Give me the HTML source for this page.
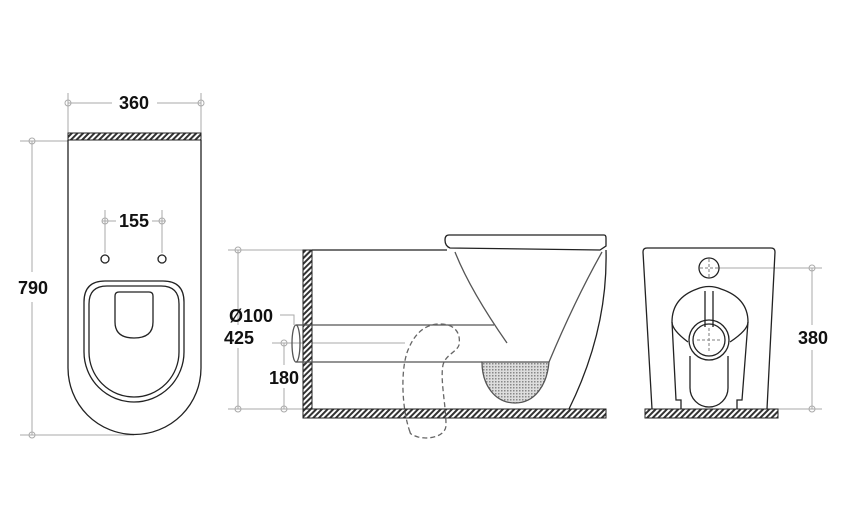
<!DOCTYPE html>
<html><head><style>body{margin:0;background:#fff}svg{display:block}text{font-family:"Liberation Sans",sans-serif;font-weight:bold;font-size:18px;fill:#111}</style></head>
<body>
<svg width="842" height="526" viewBox="0 0 842 526" xmlns="http://www.w3.org/2000/svg">
<defs>
<pattern id="h" width="4" height="4" patternUnits="userSpaceOnUse" patternTransform="rotate(45)"><rect width="4" height="4" fill="#fff"/><rect width="2" height="4" fill="#333"/></pattern>
<pattern id="d" width="3" height="3" patternUnits="userSpaceOnUse"><rect width="3" height="3" fill="#ddd"/><rect width="1.5" height="1.5" fill="#888"/></pattern>
</defs>
<g fill="none" stroke="#aaa" stroke-width="1">
<line x1="68" y1="93" x2="68" y2="133"/><line x1="201" y1="93" x2="201" y2="133"/>
<line x1="68" y1="103" x2="112" y2="103"/><line x1="157" y1="103" x2="201" y2="103"/>
<circle cx="68" cy="103" r="3"/><circle cx="201" cy="103" r="3"/>
<line x1="20" y1="141" x2="68" y2="141"/><line x1="20" y1="435" x2="134" y2="435"/>
<line x1="32" y1="141" x2="32" y2="272"/><line x1="32" y1="302" x2="32" y2="435"/>
<circle cx="32" cy="141" r="3"/><circle cx="32" cy="435" r="3"/>
<line x1="105" y1="210" x2="105" y2="253"/><line x1="162" y1="210" x2="162" y2="253"/>
<line x1="102" y1="221" x2="116" y2="221"/><line x1="152" y1="221" x2="166" y2="221"/>
<circle cx="105" cy="221" r="3"/><circle cx="162" cy="221" r="3"/>
<line x1="228" y1="250" x2="303" y2="250"/><line x1="228" y1="409" x2="303" y2="409"/>
<line x1="238" y1="250" x2="238" y2="325"/><line x1="238" y1="348" x2="238" y2="409"/>
<circle cx="238" cy="250" r="3"/><circle cx="238" cy="409" r="3"/>
<line x1="272" y1="343" x2="405" y2="343"/>
<line x1="284" y1="343" x2="284" y2="365"/><line x1="284" y1="388" x2="284" y2="409"/>
<circle cx="284" cy="343" r="3"/><circle cx="284" cy="409" r="3"/>
<polyline points="280,315 294,315 294,325"/>
<line x1="719" y1="268" x2="822" y2="268"/><line x1="778" y1="409" x2="822" y2="409"/>
<line x1="812" y1="268" x2="812" y2="325"/><line x1="812" y1="350" x2="812" y2="409"/>
<circle cx="812" cy="268" r="3"/><circle cx="812" cy="409" r="3"/>
</g>
<rect x="68" y="133" width="133" height="7" fill="url(#h)" stroke="#222"/>
<rect x="303" y="250" width="9" height="168" fill="url(#h)" stroke="#222"/>
<rect x="303" y="409" width="303" height="9" fill="url(#h)" stroke="#222"/>
<rect x="645" y="409" width="133" height="9" fill="url(#h)" stroke="#222"/>
<g fill="none" stroke="#222" stroke-width="1.3">
<path d="M68,140 V368 A66.5,66.5 0 0 0 201,368 V140"/>
<circle cx="105" cy="259" r="4"/><circle cx="162" cy="259" r="4"/>
<path d="M84,352 V302 Q84,281 105,281 H163 Q184,281 184,302 V352 A50,50 0 0 1 84,352 Z"/>
<path d="M89,352 V304 Q89,286 107,286 H161 Q179,286 179,304 V352 A45,45 0 0 1 89,352 Z"/>
<path d="M115,296 Q115,292 119,292 H149 Q153,292 153,296 V322 Q153,338 134,338 Q115,338 115,322 Z"/>
<line x1="312" y1="250" x2="447" y2="250"/>
<path d="M449,235 H604 Q606,235 606,238 V246 L600,250 L450,248 Q445,246 445,240 Q445,235 449,235 Z"/>
<path d="M606,250 Q608,330 569,409"/>
<path d="M455,252 Q470,290 507,343" stroke="#555"/>
<path d="M602,252 Q575,300 549,362" stroke="#555"/>
<line x1="312" y1="325" x2="494" y2="325" stroke="#555"/>
<line x1="312" y1="362" x2="482" y2="362" stroke="#555"/>
<ellipse cx="296" cy="343.5" rx="4" ry="18.5" stroke="#555"/>
<line x1="296" y1="325" x2="312" y2="325" stroke="#555"/><line x1="296" y1="362" x2="312" y2="362" stroke="#555"/>
<path d="M482,362 C482,385 495,403 515,403 C535,403 547,385 549,362 Z" fill="url(#d)" stroke="#555"/>
<path d="M410,432 C402,410 400,370 408,350 C416,330 428,324 440,324 C455,324 461,333 459,345 C457,352 446,354 443,365 C440,380 446,405 446,425 C446,436 430,440 418,437 C412,435 410,434 410,432 Z" stroke="#666" stroke-dasharray="5,3"/>
<path d="M652,409 L643,252 Q643,248 647,248 H771 Q775,248 775,252 L767,409"/>
<circle cx="709" cy="268" r="10"/>
<path d="M700,268 h18 M709,259 v18" stroke="#999" stroke-dasharray="3,2"/>
<path d="M697,289 Q709,284 721,289 Q748,298 748,322 Q748,330 730,342 M688,342 Q672,330 672,322 Q672,298 697,289"/>
<path d="M705,291 V327 M713,291 V327" />
<circle cx="709" cy="340" r="20"/><circle cx="709" cy="340" r="16"/>
<path d="M697,340 h24 M709,328 v24" stroke="#999" stroke-dasharray="3,2"/>
<path d="M690,356 V388 A19,19 0 0 0 728,388 V356"/>
<path d="M672,322 L676,400 H681 V409 M748,322 L742,400 H737 V409"/>
</g>
<text x="134" y="109" text-anchor="middle">360</text>
<text x="33" y="294" text-anchor="middle">790</text>
<text x="134" y="227" text-anchor="middle">155</text>
<text x="251" y="322" text-anchor="middle">Ø100</text>
<text x="239" y="344" text-anchor="middle">425</text>
<text x="284" y="384" text-anchor="middle">180</text>
<text x="813" y="344" text-anchor="middle">380</text>
</svg>
</body></html>
